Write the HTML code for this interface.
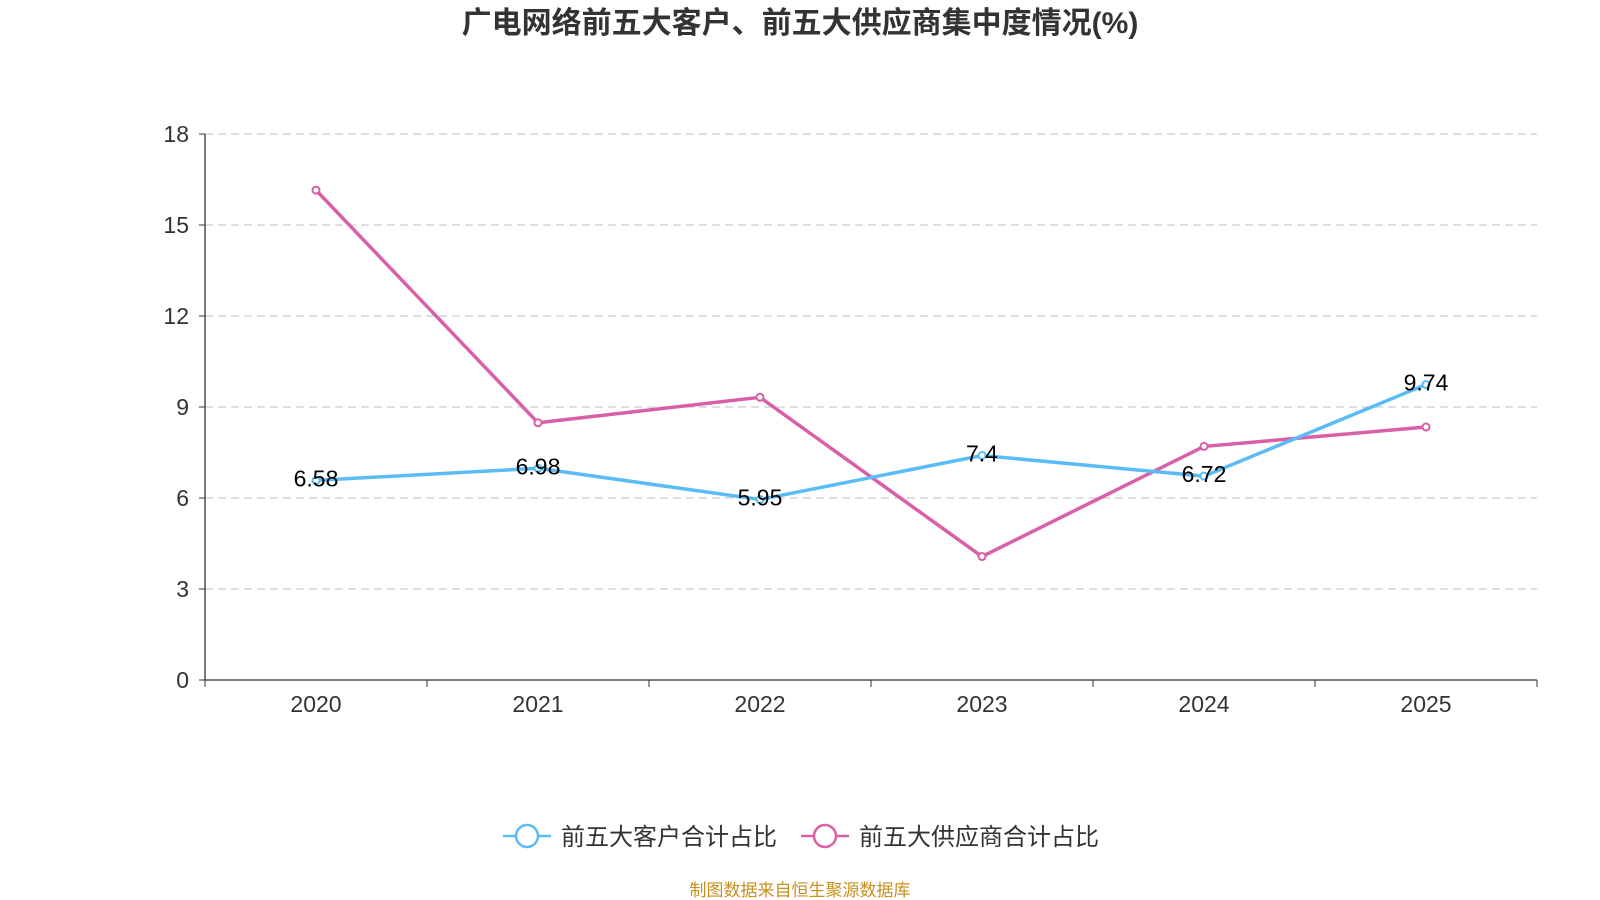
<!DOCTYPE html>
<html><head><meta charset="utf-8"><style>
body{margin:0;background:#fff;}
svg{display:block;font-family:"Liberation Sans","Noto Sans CJK SC",sans-serif;}
</style></head><body>
<svg id="c" width="1600" height="900">
<text x="800" y="33" text-anchor="middle" font-size="30" font-weight="bold" fill="#333">广电网络前五大客户、前五大供应商集中度情况(%)</text>
<g id="grid"></g><g id="axes"></g><g id="series"></g>
<g>
<g>
<line x1="503" y1="836" x2="551" y2="836" stroke="#5bbcf5" stroke-width="2.5"/>
<circle cx="527" cy="836" r="11" fill="#fff" stroke="#5bbcf5" stroke-width="2.5"/>
<text x="561" y="845" font-size="24" fill="#333">前五大客户合计占比</text></g>
<g>
<line x1="801" y1="836" x2="849" y2="836" stroke="#d95fa8" stroke-width="2.5"/>
<circle cx="825" cy="836" r="11" fill="#fff" stroke="#d95fa8" stroke-width="2.5"/>
<text x="859" y="845" font-size="24" fill="#333">前五大供应商合计占比</text></g>
</g>
<text x="800" y="896" text-anchor="middle" font-size="17" fill="#c8901e">制图数据来自恒生聚源数据库</text>
</svg>
<script>
const categories=["2020","2021","2022","2023","2024","2025"];
const customers=[6.58,6.98,5.95,7.4,6.72,9.74];
const suppliers=[16.15,8.48,9.32,4.07,7.7,8.34];
const yTicks=[0,3,6,9,12,15,18];
const NS="http://www.w3.org/2000/svg";
const L=205,R=1537,T=134,B=680,YMAX=18;
const band=(R-L)/categories.length;
const xs=i=>L+band*(i+0.5);
const ys=v=>B-(v/YMAX)*(B-T);
function mk(t,a,p){const e=document.createElementNS(NS,t);for(const k in a)e.setAttribute(k,a[k]);p.appendChild(e);return e;}
const grid=document.getElementById('grid'),axes=document.getElementById('axes'),ser=document.getElementById('series');
yTicks.forEach(v=>{
 if(v>0){const g=mk('line',{x1:L,x2:R,y1:ys(v),y2:ys(v),stroke:'#ccc','stroke-dasharray':'8,5','stroke-width':1.3},grid);
 
 }
 mk('line',{x1:L-6,x2:L,y1:ys(v),y2:ys(v),stroke:'#333'},axes);
 const t=mk('text',{x:L-16,y:ys(v)+8,'text-anchor':'end','font-size':23,fill:'#333'},axes);t.textContent=v;
 
 
});
const ya=mk('line',{x1:L,x2:L,y1:T,y2:B,stroke:'#333','stroke-width':1.3},axes);


const xa=mk('line',{x1:L,x2:R,y1:B,y2:B,stroke:'#333','stroke-width':1.3},axes);


for(let i=0;i<=categories.length;i++)mk('line',{x1:L+band*i,x2:L+band*i,y1:B,y2:B+7,stroke:'#333'},axes);
categories.forEach((c,i)=>{const t=mk('text',{x:xs(i),y:B+32,'text-anchor':'middle','font-size':23,fill:'#333'},axes);t.textContent=c;
 
 });
function line(vals,color,name,labels){
 const p=mk('polyline',{points:vals.map((v,i)=>xs(i)+','+ys(v)).join(' '),fill:'none',stroke:color,'stroke-width':3.5},ser);
 
 
 vals.forEach((v,i)=>{
  const c=mk('circle',{cx:xs(i),cy:ys(v),r:3.5,fill:'#fff',stroke:color,'stroke-width':2},ser);
  
  
  if(labels){const t=mk('text',{x:xs(i),y:ys(v)+6,'text-anchor':'middle','font-size':23,fill:'#000'},ser);t.textContent=v;
  
  }
 });
}
line(suppliers,'#d95fa8','suppliers',false);
line(customers,'#5bbcf5','customers',true);
</script>
</body></html>
